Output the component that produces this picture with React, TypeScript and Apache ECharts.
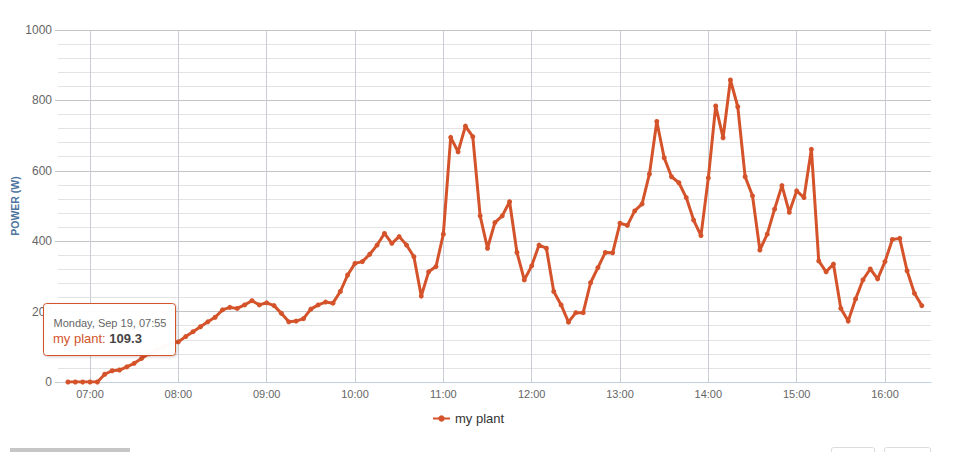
import React, { useEffect, useRef } from 'react';
import * as echarts from 'echarts';

const SERIES_NAME = 'my plant';
const Y_AXIS_TITLE = 'POWER (W)';
const FIRST_MINUTE = 6 * 60 + 45; // 06:45, first reading
const STEP_MINUTES = 5;
const X_MIN = 6 * 60 + 38.25;
const X_MAX = 16 * 60 + 31.25;
const X_TICK_LABELS = ['07:00', '08:00', '09:00', '10:00', '11:00', '12:00', '13:00', '14:00', '15:00', '16:00'];
const Y_MIN = 0;
const Y_MAX = 1000;
const Y_STEP = 200;

const POWER = [
  0, 0, 0, 0, 0, 22, 32, 34, 43, 53, 67, 80, 90, 100, 109.3,
  114, 129, 143, 157, 171, 184, 205, 212, 209, 219, 231, 219, 225, 217, 195,
  171, 173, 180, 207, 219, 227, 224, 257, 304, 337, 342, 363, 389, 422, 394,
  413, 389, 356, 244, 313, 328, 420, 695, 654, 727, 697, 472, 380, 453, 472,
  512, 368, 290, 330, 389, 380, 257, 219, 170, 197, 197, 282, 325, 368, 367,
  451, 445, 486, 506, 591, 740, 637, 583, 566, 524, 460, 416, 580, 784, 694,
  858, 782, 583, 529, 375, 420, 491, 558, 482, 543, 524, 661, 344, 313, 335,
  209, 173, 236, 290, 321, 293, 342, 405, 408, 316, 252, 217,
];

const TOOLTIP_INDEX = 14;
const TOOLTIP_DAY = 'Monday, Sep 19';

const LINE_COLOR = '#d4532a';
const FONT = '"Liberation Sans", Arial, sans-serif';

const toMinutes = (s: string) => {
  const [h, m] = s.split(':').map(Number);
  return h * 60 + m;
};
const fmt = (mins: number) => {
  const h = Math.floor(mins / 60);
  const m = Math.round(mins % 60);
  return `${String(h).padStart(2, '0')}:${String(m).padStart(2, '0')}`;
};

export default function App() {
  const ref = useRef<HTMLDivElement>(null);

  useEffect(() => {
    document.body.style.margin = '0';
    const chart = echarts.init(ref.current!, undefined, { renderer: 'svg' });
    const data = POWER.map((v, i) => [FIRST_MINUTE + i * STEP_MINUTES, v]);
    const hourTicks = X_TICK_LABELS.map(toMinutes);

    chart.setOption({
      animation: false,
      textStyle: { fontFamily: FONT },
      grid: { left: 58, right: 25, top: 30, bottom: 70, containLabel: false },
      legend: {
        left: 427,
        top: 407,
        itemWidth: 17,
        itemHeight: 8,
        itemGap: 10,
        textStyle: { fontSize: 13, color: '#333', fontFamily: FONT },
        data: [SERIES_NAME],
      },
      xAxis: {
        type: 'value',
        min: X_MIN,
        max: X_MAX,
        axisLine: { show: true, lineStyle: { color: '#c0d0e0', width: 1 } },
        axisTick: { show: false, customValues: hourTicks },
        splitLine: { show: true, lineStyle: { color: '#c9ced6', width: 1 } },
        axisLabel: {
          customValues: hourTicks,
          formatter: (v: number) => fmt(v),
          color: '#666',
          fontSize: 11,
          margin: 6,
          fontFamily: FONT,
        },
      },
      yAxis: {
        type: 'value',
        min: Y_MIN,
        max: Y_MAX,
        interval: Y_STEP,
        axisLine: { show: false },
        axisTick: { show: true, length: 3, lineStyle: { color: '#c4c4c4' } },
        axisLabel: {
          color: '#666',
          fontSize: 12,
          margin: 6,
          fontFamily: FONT,
          formatter: (v: number) => String(v),
        },
        splitLine: { show: true, lineStyle: { color: '#c4c4c4', width: 1 } },
        minorTick: { show: false, splitNumber: 5 },
        minorSplitLine: { show: true, lineStyle: { color: '#e3e3e3', width: 1 } },
      },
      series: [
        {
          name: SERIES_NAME,
          type: 'line',
          data,
          symbol: 'circle',
          symbolSize: 5,
          showSymbol: true,
          color: LINE_COLOR,
          lineStyle: { width: 3, color: LINE_COLOR },
          itemStyle: { color: LINE_COLOR },
          z: 3,
        },
      ],
    });

    const tip = data[TOOLTIP_INDEX];
    const [px, py] = chart.convertToPixel({ xAxisIndex: 0, yAxisIndex: 0 }, tip) as number[];
    chart.setOption({
      graphic: [
        {
          type: 'text',
          x: 15,
          y: 206,
          rotation: Math.PI / 2,
          style: {
            text: Y_AXIS_TITLE,
            fill: '#4d759e',
            font: `bold 10.5px ${FONT}`,
            align: 'center',
            verticalAlign: 'middle',
          },
        },
        {
          type: 'rect',
          z: 100,
          shape: { x: px - 127.5, y: py - 40, width: 132, height: 52, r: 3 },
          style: {
            fill: 'rgba(255,255,255,0.97)',
            stroke: LINE_COLOR,
            lineWidth: 1,
            shadowBlur: 3,
            shadowOffsetX: 1,
            shadowOffsetY: 1,
            shadowColor: 'rgba(0,0,0,0.18)',
          },
        },
        {
          type: 'text',
          z: 101,
          x: px - 117.5,
          y: py - 21,
          style: {
            text: `${TOOLTIP_DAY}, ${fmt(tip[0])}`,
            fill: '#666',
            font: `11px ${FONT}`,
            verticalAlign: 'middle',
          },
        },
        {
          type: 'text',
          z: 101,
          x: px - 118,
          y: py - 5,
          style: {
            text: `{n|${SERIES_NAME}: }{v|${tip[1]}}`,
            verticalAlign: 'middle',
            rich: {
              n: { fill: LINE_COLOR, font: `13px ${FONT}` },
              v: { fill: '#444', font: `bold 13px ${FONT}` },
            },
          },
        },
        {
          type: 'rect',
          shape: { x: 10, y: 448, width: 120, height: 6 },
          style: { fill: '#c6c6c6' },
        },
        {
          type: 'rect',
          shape: { x: 831.5, y: 447.5, width: 43, height: 10, r: 2 },
          style: { fill: '#fff', stroke: '#dcdcdc', lineWidth: 1 },
        },
        {
          type: 'rect',
          shape: { x: 884.5, y: 447.5, width: 46, height: 10, r: 2 },
          style: { fill: '#fff', stroke: '#dcdcdc', lineWidth: 1 },
        },
      ],
    });

    return () => chart.dispose();
  }, []);

  return <div ref={ref} style={{ width: 956, height: 452 }} />;
}
